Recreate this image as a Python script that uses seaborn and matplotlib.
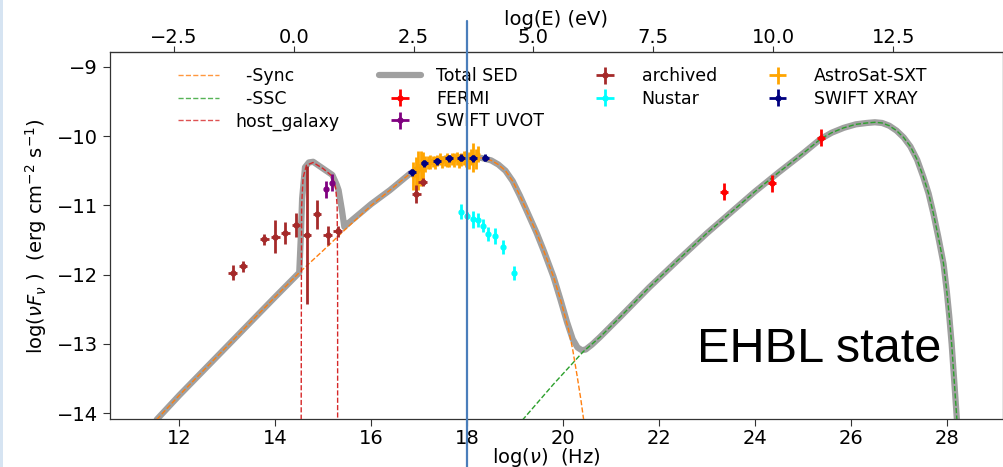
import numpy as np
import pandas as pd
import matplotlib
matplotlib.use("Agg")
import matplotlib.pyplot as plt
import seaborn as sns
from matplotlib.patches import Rectangle
from matplotlib.lines import Line2D

# ---------------- model curves ----------------
sync_x = [11.53, 12.0, 13.0, 14.0, 14.5, 15.0, 15.5, 16.0, 16.39, 16.6, 16.81, 17.16, 17.5,
          17.78, 18.1, 18.3, 18.5, 18.65, 18.8, 18.95, 19.1, 19.25, 19.45, 19.6, 19.8, 19.95,
          20.11, 20.2, 20.29, 20.37, 20.45]
sync_y = [-14.09, -13.74, -13.03, -12.32, -11.97, -11.65, -11.32, -11.0, -10.78, -10.66, -10.54,
          -10.39, -10.335, -10.31, -10.305, -10.315, -10.35, -10.41, -10.50, -10.65, -10.86,
          -11.09, -11.40, -11.66, -12.03, -12.37, -12.78, -13.08, -13.45, -13.8, -14.2]

ssc_x = [19.15, 19.8, 20.42, 20.77, 21.19, 21.8, 22.44, 23.0, 23.5, 24.0, 24.5, 25.0, 25.37, 25.6,
         25.85, 26.1, 26.33, 26.5, 26.65, 26.8, 26.95, 27.1, 27.24, 27.38, 27.51, 27.62, 27.72,
         27.82, 27.93, 28.0, 28.05, 28.1, 28.15, 28.22]
ssc_y = [-14.1, -13.58, -13.11, -12.90, -12.61, -12.18, -11.76, -11.40, -11.10, -10.80, -10.52,
         -10.25, -10.04, -9.95, -9.88, -9.83, -9.81, -9.80, -9.81, -9.85, -9.92, -10.02, -10.15,
         -10.34, -10.59, -10.83, -11.12, -11.45, -11.84, -12.25, -12.6, -13.0, -13.5, -14.2]

host_x = [14.54, 14.545, 14.55, 14.58, 14.65, 14.79, 15.0, 15.19, 15.26, 15.29, 15.30, 15.30]
host_y = [-14.2, -12.0, -11.0, -10.6, -10.42, -10.38, -10.47, -10.58, -10.75, -11.0, -12.0, -14.2]

total_x = [11.53, 12.0, 13.0, 14.0, 14.5, 14.53, 14.56, 14.62, 14.7, 14.79, 15.0, 15.19, 15.28,
           15.32, 15.39, 15.44, 15.5, 16.0, 16.39, 16.6, 16.81, 17.16, 17.5, 17.78, 18.1, 18.3,
           18.5, 18.65, 18.8, 18.95, 19.1, 19.25, 19.45, 19.6, 19.8, 19.95, 20.08, 20.2, 20.3,
           20.39, 20.47, 20.6, 20.77, 21.19, 21.8, 22.44, 23.0, 23.5, 24.0, 24.5, 25.0, 25.37,
           25.6, 25.85, 26.1, 26.33, 26.5, 26.65, 26.8, 26.95, 27.1, 27.24, 27.38, 27.51, 27.62,
           27.72, 27.82, 27.93, 28.0, 28.05, 28.1, 28.15, 28.22]
total_y = [-14.09, -13.74, -13.03, -12.32, -11.97, -11.5, -10.9, -10.45, -10.38, -10.37, -10.47,
           -10.56, -10.70, -10.78, -11.07, -11.31, -11.27, -10.98, -10.78, -10.66, -10.54, -10.39,
           -10.335, -10.31, -10.305, -10.315, -10.35, -10.41, -10.50, -10.65, -10.86, -11.09,
           -11.40, -11.66, -12.03, -12.37, -12.68, -12.93, -13.05, -13.09, -13.08, -13.01, -12.90,
           -12.61, -12.18, -11.76, -11.40, -11.10, -10.80, -10.52, -10.25, -10.04, -9.95, -9.88,
           -9.83, -9.81, -9.80, -9.81, -9.85, -9.92, -10.02, -10.15, -10.34, -10.59, -10.83,
           -11.12, -11.45, -11.84, -12.25, -12.6, -13.0, -13.5, -14.2]

# ---------------- data points ----------------
fermi_x = [23.36, 24.36, 25.37]
fermi_y = [-10.80, -10.68, -10.02]
fermi_xerr = [0.08, 0.08, 0.08]
fermi_yerr = [0.12, 0.12, 0.12]

uvot_x = [15.06, 15.19]
uvot_y = [-10.77, -10.67]
uvot_xerr = [0.02, 0.02]
uvot_yerr = [0.12, 0.12]

arch_x = [13.11, 13.33, 13.77, 14.0, 14.21, 14.43, 14.66, 14.87, 15.09, 15.30, 16.94, 17.07]
arch_y = [-11.97, -11.88, -11.49, -11.45, -11.40, -11.28, -11.43, -11.13, -11.43, -11.37,
          -10.84, -10.66]
arch_xerr = [0.09, 0.08, 0.09, 0.09, 0.09, 0.09, 0.09, 0.09, 0.09, 0.09, 0.09, 0.09]
arch_yerr = [0.11, 0.08, 0.08, 0.24, 0.16, 0.17, 1.0, 0.21, 0.14, 0.08, 0.13, 0.06]

nustar_x = [17.87, 17.99, 18.12, 18.22, 18.33, 18.44, 18.58, 18.74, 18.98]
nustar_y = [-11.09, -11.15, -11.20, -11.21, -11.29, -11.41, -11.44, -11.60, -11.97]
nustar_xerr = [0.03, 0.03, 0.03, 0.03, 0.03, 0.03, 0.03, 0.03, 0.03]
nustar_yerr = [0.11, 0.05, 0.12, 0.10, 0.09, 0.10, 0.11, 0.10, 0.10]

sxt_x = [16.88, 16.93, 16.98, 17.03, 17.08, 17.13, 17.18, 17.23, 17.28, 17.33, 17.38, 17.43, 17.48,
         17.53, 17.58, 17.63, 17.68, 17.73, 17.78, 17.83, 17.88, 17.93, 17.98, 18.03, 18.08, 18.13,
         18.18, 18.22]
sxt_y = [-10.58, -10.55, -10.50, -10.47, -10.43, -10.40, -10.38, -10.37, -10.36, -10.38, -10.35,
         -10.33, -10.37, -10.35, -10.34, -10.36, -10.33, -10.35, -10.32, -10.36, -10.34, -10.31,
         -10.33, -10.35, -10.30, -10.31, -10.33, -10.26]
sxt_xerr = [0.025] * 28
sxt_yerr = [0.20, 0.25, 0.28, 0.25, 0.20, 0.12, 0.10, 0.10, 0.08, 0.09, 0.08, 0.09, 0.09, 0.08,
            0.10, 0.09, 0.08, 0.10, 0.09, 0.10, 0.09, 0.10, 0.11, 0.12, 0.12, 0.21, 0.15, 0.12]

xray_x = [16.85, 17.11, 17.37, 17.62, 17.87, 18.12, 18.38]
xray_y = [-10.52, -10.39, -10.36, -10.32, -10.31, -10.32, -10.31]
xray_xerr = [0.08] * 7
xray_yerr = [0.05] * 7

xticks = [12, 14, 16, 18, 20, 22, 24, 26, 28]
yticks = [-14, -13, -12, -11, -10, -9]
eticks = [-2.5, 0.0, 2.5, 5.0, 7.5, 10.0, 12.5]
LOG_H = 14.383  # log10(nu) - log10(E/eV)

# ---------------- figure ----------------
sns.set_style("ticks")
plt.rcParams['font.family'] = ['DejaVu Sans']
plt.rcParams['mathtext.fontset'] = 'dejavusans'
for k in ["text.color", "axes.labelcolor", "xtick.color", "ytick.color"]:
    plt.rcParams[k] = "black"

W, H = 1004, 467
fig = plt.figure(figsize=(W / 100, H / 100), dpi=100)
fig.patch.set_facecolor("white")
L, R, T, B = 110, 1003, 52.3, 419.3
ax = fig.add_axes([L / W, (H - B) / H, (R - L) / W, (B - T) / H])

df_total = pd.DataFrame({"x": total_x, "y": total_y})
df_sync = pd.DataFrame({"x": sync_x, "y": sync_y})
df_ssc = pd.DataFrame({"x": ssc_x, "y": ssc_y})
df_host = pd.DataFrame({"x": host_x, "y": host_y})

sns.lineplot(data=df_total, x="x", y="y", ax=ax, sort=False, estimator=None,
             color="gray", alpha=0.75, lw=4.5, zorder=2)
sns.lineplot(data=df_sync, x="x", y="y", ax=ax, sort=False, estimator=None,
             color="tab:orange", lw=1.0, ls="--", zorder=3)
sns.lineplot(data=df_ssc, x="x", y="y", ax=ax, sort=False, estimator=None,
             color="tab:green", lw=1.0, ls="--", zorder=3)
sns.lineplot(data=df_host, x="x", y="y", ax=ax, sort=False, estimator=None,
             color="tab:red", lw=1.0, ls="--", zorder=3)

ekw = dict(fmt="o", ms=3.5, elinewidth=2.0, capsize=0, zorder=5)
h_fermi = ax.errorbar(fermi_x, fermi_y, xerr=fermi_xerr, yerr=fermi_yerr, color="red", **ekw)
h_uvot = ax.errorbar(uvot_x, uvot_y, xerr=uvot_xerr, yerr=uvot_yerr, color="purple", **ekw)
h_arch = ax.errorbar(arch_x, arch_y, xerr=arch_xerr, yerr=arch_yerr, color="brown", **ekw)
h_nu = ax.errorbar(nustar_x, nustar_y, xerr=nustar_xerr, yerr=nustar_yerr, color="cyan", **ekw)
h_sxt = ax.errorbar(sxt_x, sxt_y, xerr=sxt_xerr, yerr=sxt_yerr, color="orange",
                    fmt="o", ms=2, elinewidth=2.0, capsize=0, zorder=4)
h_xray = ax.errorbar(xray_x, xray_y, xerr=xray_xerr, yerr=xray_yerr, color="navy", **ekw)

ax.set_xlim(10.555, 29.17)
ax.set_ylim(-14.087, -8.79)
ax.set_xticks(xticks)
ax.set_yticks(yticks)
ax.tick_params(labelsize=14, length=5, width=0.8, color="#333333", labelcolor="black")
ax.tick_params(axis="x", pad=2.0)
for s in ax.spines.values():
    s.set_linewidth(0.9)
    s.set_color("#333333")
ax.set_xlabel(r"log($\nu$)  (Hz)", fontsize=14, va="center")
ax.xaxis.set_label_coords(0.489, -0.104)
ax.set_ylabel(r"log($\nu F_{\nu}$ )  (erg cm$^{-2}$ s$^{-1}$)", fontsize=14, labelpad=6)

sec = ax.secondary_xaxis("top", functions=(lambda x: x - LOG_H, lambda e: e + LOG_H))
sec.set_xticks(eticks)
sec.tick_params(labelsize=14, length=4, width=0.8, color="#333333", labelcolor="black", pad=0.0)
sec.set_xlabel("log(E) (eV)", fontsize=14, labelpad=2)

# legend
h_sync = Line2D([], [], color="tab:orange", lw=1.0, ls="--", alpha=0.8)
h_ssc = Line2D([], [], color="tab:green", lw=1.0, ls="--", alpha=0.8)
h_host = Line2D([], [], color="tab:red", lw=1.0, ls="--", alpha=0.8)
h_tot = Line2D([], [], color="gray", lw=4.5, alpha=0.75)
handles = [h_sync, h_ssc, h_host, h_tot, h_fermi, h_uvot, h_arch, h_nu, h_sxt, h_xray]
labels = ["  -Sync", "  -SSC", "host_galaxy", "Total SED", "FERMI", "SWIFT UVOT",
          "archived", "Nustar", "AstroSat-SXT", "SWIFT XRAY"]
leg = ax.legend(handles, labels, ncol=4, frameon=False, fontsize=12.5, loc="upper left",
                bbox_to_anchor=(0.068, 0.978), handlelength=2.4, labelspacing=0.26,
                columnspacing=2.3, handletextpad=0.9, borderaxespad=0)
for t in leg.get_texts():
    t.set_color("black")

ax.text(0.931, 0.19, "EHBL state", transform=ax.transAxes, fontsize=35,
        family=["Liberation Sans", "DejaVu Sans"], ha="right", va="center", color="black")

# slide decorations: light-blue left border and vertical blue marker line
fig.add_artist(Rectangle((0, 0), 3 / W, 1, transform=fig.transFigure,
                         facecolor="#d6e4f2", edgecolor="none"))
fig.add_artist(Line2D([466.7 / W, 466.7 / W], [0, (H - 21) / H], transform=fig.transFigure,
                      color="#4a7ebb", lw=1.6))

fig.savefig("out.png", dpi=100)
